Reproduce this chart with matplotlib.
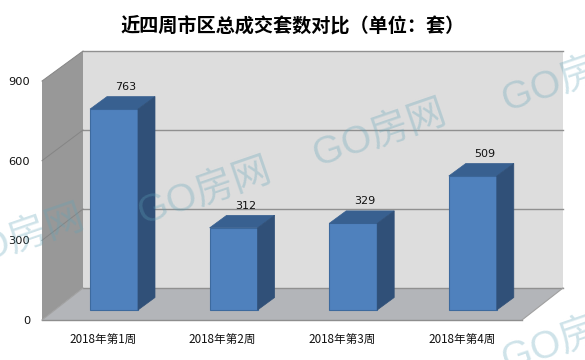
import matplotlib
matplotlib.use("Agg")
import matplotlib.pyplot as plt
from matplotlib.patches import Polygon

plt.rcParams['font.family'] = ['Noto Sans CJK SC', 'DejaVu Sans']

categories = ['2018年第1周', '2018年第2周', '2018年第3周', '2018年第4周']
values = [763, 312, 329, 509]
yticks = [0, 300, 600, 900]
title = '近四周市区总成交套数对比（单位：套）'

W, H = 585, 360
X0, XS = 114.0, 119.6      # px of category 0, px per category
Y0, YS = 310.0, 0.2633     # px of value 0 (bar plane), px per unit

fig = plt.figure(figsize=(W / 100, H / 100), dpi=100, facecolor='white')
ax = fig.add_axes([0, 0, 1, 1])
ax.set_xlim((0 - X0) / XS, (W - X0) / XS)
ax.set_ylim((Y0 - H) / YS, Y0 / YS)
ax.axis('off')

# size helpers: pixel lengths to data lengths
dx = lambda p: p / XS
dy = lambda p: p / YS

# wall geometry, as offsets from the bar plane
left = -0.602
right = left + dx(480)
depth_x, back_y, front_y = dx(41), dy(22), dy(-10)
top = yticks[-1]
front_scale = 239 / 237

def front(v):
    return front_y + v * front_scale

def back(v):
    return back_y + v

# back wall
ax.add_patch(Polygon([(left + depth_x, back(0)), (right + depth_x, back(0)),
                      (right + depth_x, back(top)), (left + depth_x, back(top))],
                     fc='#dddddd', ec='none', zorder=1))
# left wall
ax.add_patch(Polygon([(left, front(0)), (left + depth_x, back(0)),
                      (left + depth_x, back(top)), (left, front(top))],
                     fc='#989898', ec='none', zorder=1))
# floor
ax.add_patch(Polygon([(left, front(0)), (right, front(0)),
                      (right + depth_x, back(0)), (left + depth_x, back(0))],
                     fc='#b3b5b9', ec='none', zorder=1))
# grid lines
for v in yticks:
    ax.plot([left + depth_x, right + depth_x], [back(v), back(v)], color='#909090', lw=1.0, zorder=2)
    if v > 0:
        ax.plot([left, left + depth_x], [front(v), back(v)], color='#858585', lw=0.7, zorder=2)
ax.plot([left, right], [front(0), front(0)], color='#8e8e8e', lw=1.0, zorder=2)
ax.plot([right, right + depth_x], [front(0), back(0)], color='#a0a0a0', lw=0.8, zorder=2)
ax.plot([left, left + depth_x], [front(0), back(0)], color='#a0a0a0', lw=0.8, zorder=2)

# y tick labels
for v in yticks:
    ax.text(left - dx(12), front(v) - dy(1), str(v), ha='right', va='center',
            fontsize=8.2, color='#111111', family='DejaVu Sans', zorder=6)

# bars
bw = 48 / XS
bx, by = dx(17), dy(12.5)
xs = list(range(len(values)))
ax.bar(xs, values, width=bw, color='#4f81bd', edgecolor='#3d6a9e', linewidth=0.8, zorder=3)
for x, v in zip(xs, values):
    l, r = x - bw / 2, x + bw / 2
    ax.add_patch(Polygon([(l, v), (r, v), (r + bx, v + by), (l + bx, v + by)],
                         fc='#386090', ec='#386090', lw=0.5, zorder=3))
    ax.add_patch(Polygon([(r, 0), (r + bx, by), (r + bx, v + by), (r, v)],
                         fc='#305078', ec='#305078', lw=0.5, zorder=3))
    ax.text(x + dx(12), v + dy(22), str(v), ha='center', va='center',
            fontsize=8, color='#111111', family='DejaVu Sans', zorder=6)
    ax.text(x - dx(11), dy(-29), categories[x], ha='center', va='center',
            fontsize=8.4, color='#111111', zorder=6)

# title
ax.text(dx(293 - X0), dy(Y0 - 26), title, ha='center', va='center',
        fontsize=13.8, fontweight='bold', color='#000000', zorder=6)

# watermarks (centre pixel of each stamp, partly running off the picture as in the reference)
wm = [(18, 240), (205, 193), (380, 135), (569, 80), (569, 340)]
for px, py in wm:
    ax.text((px - X0) / XS, (Y0 - py) / YS, 'GO房网', ha='center', va='center',
            fontsize=28, rotation=19, color='#5fa3b8', alpha=0.3,
            family=['Liberation Sans', 'Noto Sans CJK SC'], zorder=7, clip_on=True)

fig.savefig('out.png', dpi=100)
